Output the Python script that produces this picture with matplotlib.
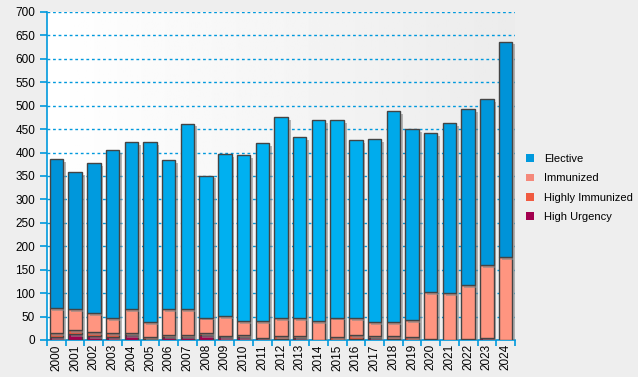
import numpy as np
import matplotlib
matplotlib.use("Agg")
import matplotlib.pyplot as plt
import matplotlib.patheffects as pe
from matplotlib.colors import to_rgb
from matplotlib.patches import Patch

plt.rcParams["font.family"] = ["Liberation Sans", "DejaVu Sans"]

years = [str(y) for y in range(2000, 2025)]
high_urgency = [6, 13, 8, 6, 11, 3, 7, 7, 11, 6, 6, 4, 2, 5, 0, 0, 2, 5, 3, 0, 2, 0, 2, 4, 0]
highly_immunized = [8, 8, 9, 9, 4, 3, 4, 4, 4, 3, 5, 0, 7, 4, 1, 6, 9, 4, 5, 6, 0, 0, 0, 0, 0]
immunized = [54, 45, 40, 31, 51, 32, 55, 55, 33, 42, 29, 36, 37, 37, 39, 42, 35, 29, 30, 36,
             100, 100, 115, 156, 177]
elective = [318, 292, 321, 359, 356, 384, 318, 396, 303, 346, 355, 380, 430, 387, 430, 422,
            381, 391, 451, 408, 340, 363, 376, 354, 460]

series = [
    ("High Urgency", high_urgency, "#A3004F"),
    ("Highly Immunized", highly_immunized, "#F05A40"),
    ("Immunized", immunized, "#FF9580"),
]

blue = "#0099DD"
fig = plt.figure(figsize=(6.38, 3.77), dpi=100, facecolor="#EEEEEE")
ax = fig.add_axes([47 / 638, 1 - 340 / 377, 468 / 638, 328 / 377])
ax.set_facecolor("#EEEEEE")

# background gradient, white on the left to light grey on the right
grad = np.linspace(1, 0, 256).reshape(1, -1)
ax.imshow(grad, extent=[-0.5, 24.5, 0, 700], aspect="auto", cmap="gray",
          vmin=-12, vmax=1, zorder=0)

x = np.arange(len(years))
shadow = [pe.SimplePatchShadow(offset=(2, -2), shadow_rgbFace="#888888", alpha=0.6),
          pe.Normal()]
bottom = np.zeros(len(years))
for name, vals, col in series:
    ax.bar(x, vals, 0.72, bottom=bottom, color=col, edgecolor="#444444", linewidth=1.0,
           zorder=3, path_effects=shadow)
    bottom += np.array(vals)

# elective bars shift in tone across the plot
dark, bright = np.array(to_rgb("#0093D8")), np.array(to_rgb("#00B2F2"))
t = np.sin(np.linspace(0, np.pi, len(years)))
el_colors = [tuple(dark + (bright - dark) * v) for v in t]
ax.bar(x, elective, 0.72, bottom=bottom, color=el_colors, edgecolor="#444444", linewidth=1.0,
       zorder=3, path_effects=shadow)

ax.set_xlim(-0.5, 24.5)
ax.set_ylim(0, 700)
ax.set_yticks(range(0, 701, 50))
ax.grid(axis="y", color=blue, linestyle=(0, (2, 2)), linewidth=1, zorder=1)
ax.set_axisbelow(True)

ax.set_xticks(x)
ax.set_xticklabels(years, rotation=90, fontsize=8.5)
ax.tick_params(axis="x", length=0, pad=3)
ax.set_xticks(np.arange(-0.5, 24.6, 1), minor=True)
ax.tick_params(axis="x", which="minor", length=4, color=blue, width=1.2)
ax.tick_params(axis="y", length=5, color=blue, width=1.2, labelsize=8.5)

for s in ["top", "right"]:
    ax.spines[s].set_visible(False)
for s in ["left", "bottom"]:
    ax.spines[s].set_color(blue)
    ax.spines[s].set_linewidth(1.2)

legend_items = [("Elective", "#0099DD"), ("Immunized", "#F4887A"),
                ("Highly Immunized", "#F05A40"), ("High Urgency", "#A3004F")]
handles = [Patch(facecolor=c, edgecolor="none", label=n) for n, c in legend_items]
fig.legend(handles=handles, loc="center left", bbox_to_anchor=(516 / 638, 1 - 188 / 377),
           frameon=False, fontsize=8, handlelength=0.7, handleheight=0.7,
           handletextpad=0.9, labelspacing=0.85)

fig.savefig("out.png", dpi=100, facecolor=fig.get_facecolor())
